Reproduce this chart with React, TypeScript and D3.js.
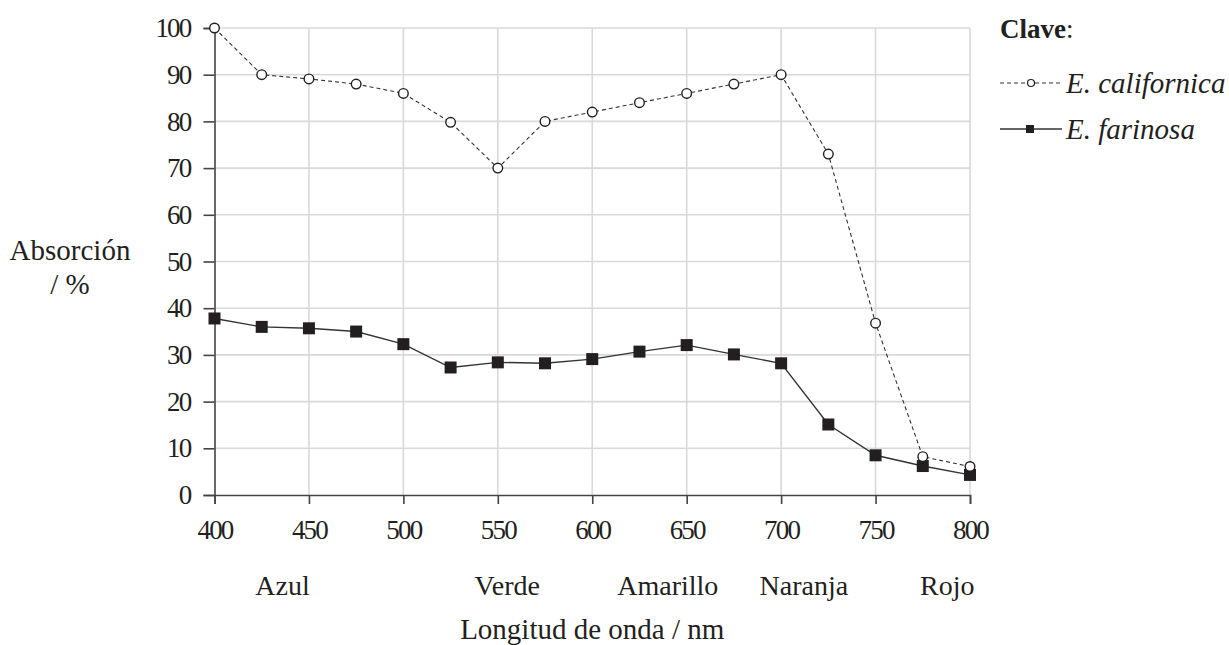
import React, { useEffect, useRef } from "react";
import * as d3 from "d3";

// Wavelengths (nm) measured
const wavelengths = [400, 425, 450, 475, 500, 525, 550, 575, 600, 625, 650, 675, 700, 725, 750, 775, 800];

// Absorption (%) per species
const californica = [100, 90, 89.1, 88, 86, 79.8, 70, 80, 82, 84, 86, 88, 90, 73, 36.8, 8.2, 6.1];
const farinosa = [37.8, 36, 35.7, 35, 32.3, 27.3, 28.4, 28.2, 29.1, 30.7, 32.1, 30.1, 28.2, 15.1, 8.5, 6.2, 4.3];

// Axis ticks
const xTicks = [400, 450, 500, 550, 600, 650, 700, 750, 800];
const yTicks = [0, 10, 20, 30, 40, 50, 60, 70, 80, 90, 100];

// Colour names under the x axis, placed at approximate wavelengths
const colourNames = ["Azul", "Verde", "Amarillo", "Naranja", "Rojo"];
const colourPositions = [436, 555, 640, 712, 788];

const App = () => {
  const svgRef = useRef<SVGSVGElement | null>(null);

  useEffect(() => {
    const width = 1229;
    const height = 645;
    const margin = { top: 28, right: 259, bottom: 150, left: 214.5 };
    const font = "Liberation Serif, Times New Roman, Times, serif";
    const ink = "#231f20";

    const svg = d3.select(svgRef.current);
    svg.selectAll("*").remove();

    const x = d3.scaleLinear().domain([400, 800]).range([margin.left, width - margin.right]);
    const y = d3.scaleLinear().domain([0, 100]).range([height - margin.bottom, margin.top]);

    // Grid lines
    const grid = svg.append("g");
    grid
      .selectAll(".hgrid")
      .data(yTicks.filter((d) => d > 0))
      .enter()
      .append("line")
      .attr("x1", x(400))
      .attr("x2", x(800))
      .attr("y1", (d) => y(d))
      .attr("y2", (d) => y(d))
      .attr("stroke", "#d9d9d9")
      .attr("stroke-width", 1.6);
    grid
      .selectAll(".vgrid")
      .data(xTicks.filter((d) => d > 400))
      .enter()
      .append("line")
      .attr("x1", (d) => x(d))
      .attr("x2", (d) => x(d))
      .attr("y1", y(0))
      .attr("y2", y(100))
      .attr("stroke", "#d9d9d9")
      .attr("stroke-width", 1.6);

    // Y axis
    const yAxis = svg
      .append("g")
      .attr("transform", `translate(${x(400)},0)`)
      .call(d3.axisLeft(y).tickValues(yTicks).tickSize(11).tickPadding(13));
    // X axis
    const xAxis = svg
      .append("g")
      .attr("transform", `translate(0,${y(0)})`)
      .call(d3.axisBottom(x).tickValues(xTicks).tickSize(9).tickPadding(16));

    [yAxis, xAxis].forEach((a) => {
      a.attr("font-family", font).attr("font-size", 27);
      a.select(".domain").attr("stroke", "#444").attr("stroke-width", 1.6);
      a.selectAll(".tick line").attr("stroke", "#444").attr("stroke-width", 1.6);
      a.selectAll(".tick text").attr("fill", ink).attr("letter-spacing", -1.8);
    });

    const label = (sel: any, size: number) =>
      sel.attr("fill", ink).attr("font-family", font).attr("font-size", size);

    // Colour names
    svg
      .append("g")
      .selectAll("text")
      .data(colourNames)
      .enter()
      .append("text")
      .attr("x", (d, i) => x(colourPositions[i]))
      .attr("y", 595)
      .attr("text-anchor", "middle")
      .call(label, 28)
      .text((d) => d);

    // Axis titles
    svg
      .append("text")
      .attr("x", x(600))
      .attr("y", 639)
      .attr("text-anchor", "middle")
      .call(label, 29)
      .text("Longitud de onda / nm");
    const yTitle = svg.append("text").attr("text-anchor", "middle").call(label, 29);
    yTitle.append("tspan").attr("x", 70).attr("y", 260).text("Absorción");
    yTitle.append("tspan").attr("x", 70).attr("y", 294).text("/ %");

    const line = d3
      .line<number>()
      .x((d, i) => x(wavelengths[i]))
      .y((d) => y(d));

    // E. farinosa
    svg
      .append("path")
      .datum(farinosa)
      .attr("fill", "none")
      .attr("stroke", "#333")
      .attr("stroke-width", 1.4)
      .attr("d", line);
    svg
      .append("g")
      .selectAll("rect")
      .data(farinosa)
      .enter()
      .append("rect")
      .attr("x", (d, i) => x(wavelengths[i]) - 6)
      .attr("y", (d) => y(d) - 6)
      .attr("width", 12)
      .attr("height", 12)
      .attr("fill", ink);

    // E. californica
    svg
      .append("path")
      .datum(californica)
      .attr("fill", "none")
      .attr("stroke", "#333")
      .attr("stroke-width", 1.1)
      .attr("stroke-dasharray", "4,3")
      .attr("d", line);
    svg
      .append("g")
      .selectAll("circle")
      .data(californica)
      .enter()
      .append("circle")
      .attr("cx", (d, i) => x(wavelengths[i]))
      .attr("cy", (d) => y(d))
      .attr("r", 4.8)
      .attr("fill", "white")
      .attr("stroke", ink)
      .attr("stroke-width", 1.4);

    // Legend
    const legend = svg.append("g");
    const title = legend.append("text").attr("x", 1000).attr("y", 38).call(label, 27);
    title.append("tspan").attr("font-weight", "bold").text("Clave");
    title.append("tspan").text(":");

    legend
      .append("line")
      .attr("x1", 1000)
      .attr("x2", 1062)
      .attr("y1", 83)
      .attr("y2", 83)
      .attr("stroke", "#333")
      .attr("stroke-width", 1.1)
      .attr("stroke-dasharray", "4,3");
    legend
      .append("circle")
      .attr("cx", 1031)
      .attr("cy", 83)
      .attr("r", 3.5)
      .attr("fill", "white")
      .attr("stroke", ink)
      .attr("stroke-width", 1.2);
    legend
      .append("text")
      .attr("x", 1066)
      .attr("y", 93)
      .call(label, 29)
      .attr("font-style", "italic")
      .text("E. californica");

    legend
      .append("line")
      .attr("x1", 1000)
      .attr("x2", 1062)
      .attr("y1", 129)
      .attr("y2", 129)
      .attr("stroke", "#333")
      .attr("stroke-width", 1.4);
    legend
      .append("rect")
      .attr("x", 1026)
      .attr("y", 125)
      .attr("width", 8)
      .attr("height", 8)
      .attr("fill", ink);
    legend
      .append("text")
      .attr("x", 1066)
      .attr("y", 139)
      .call(label, 29)
      .attr("font-style", "italic")
      .text("E. farinosa");
  }, []);

  return (
    <svg
      ref={svgRef}
      width={1229}
      height={645}
      style={{ position: "absolute", left: 0, top: 0, background: "white" }}
    />
  );
};

export default App;
